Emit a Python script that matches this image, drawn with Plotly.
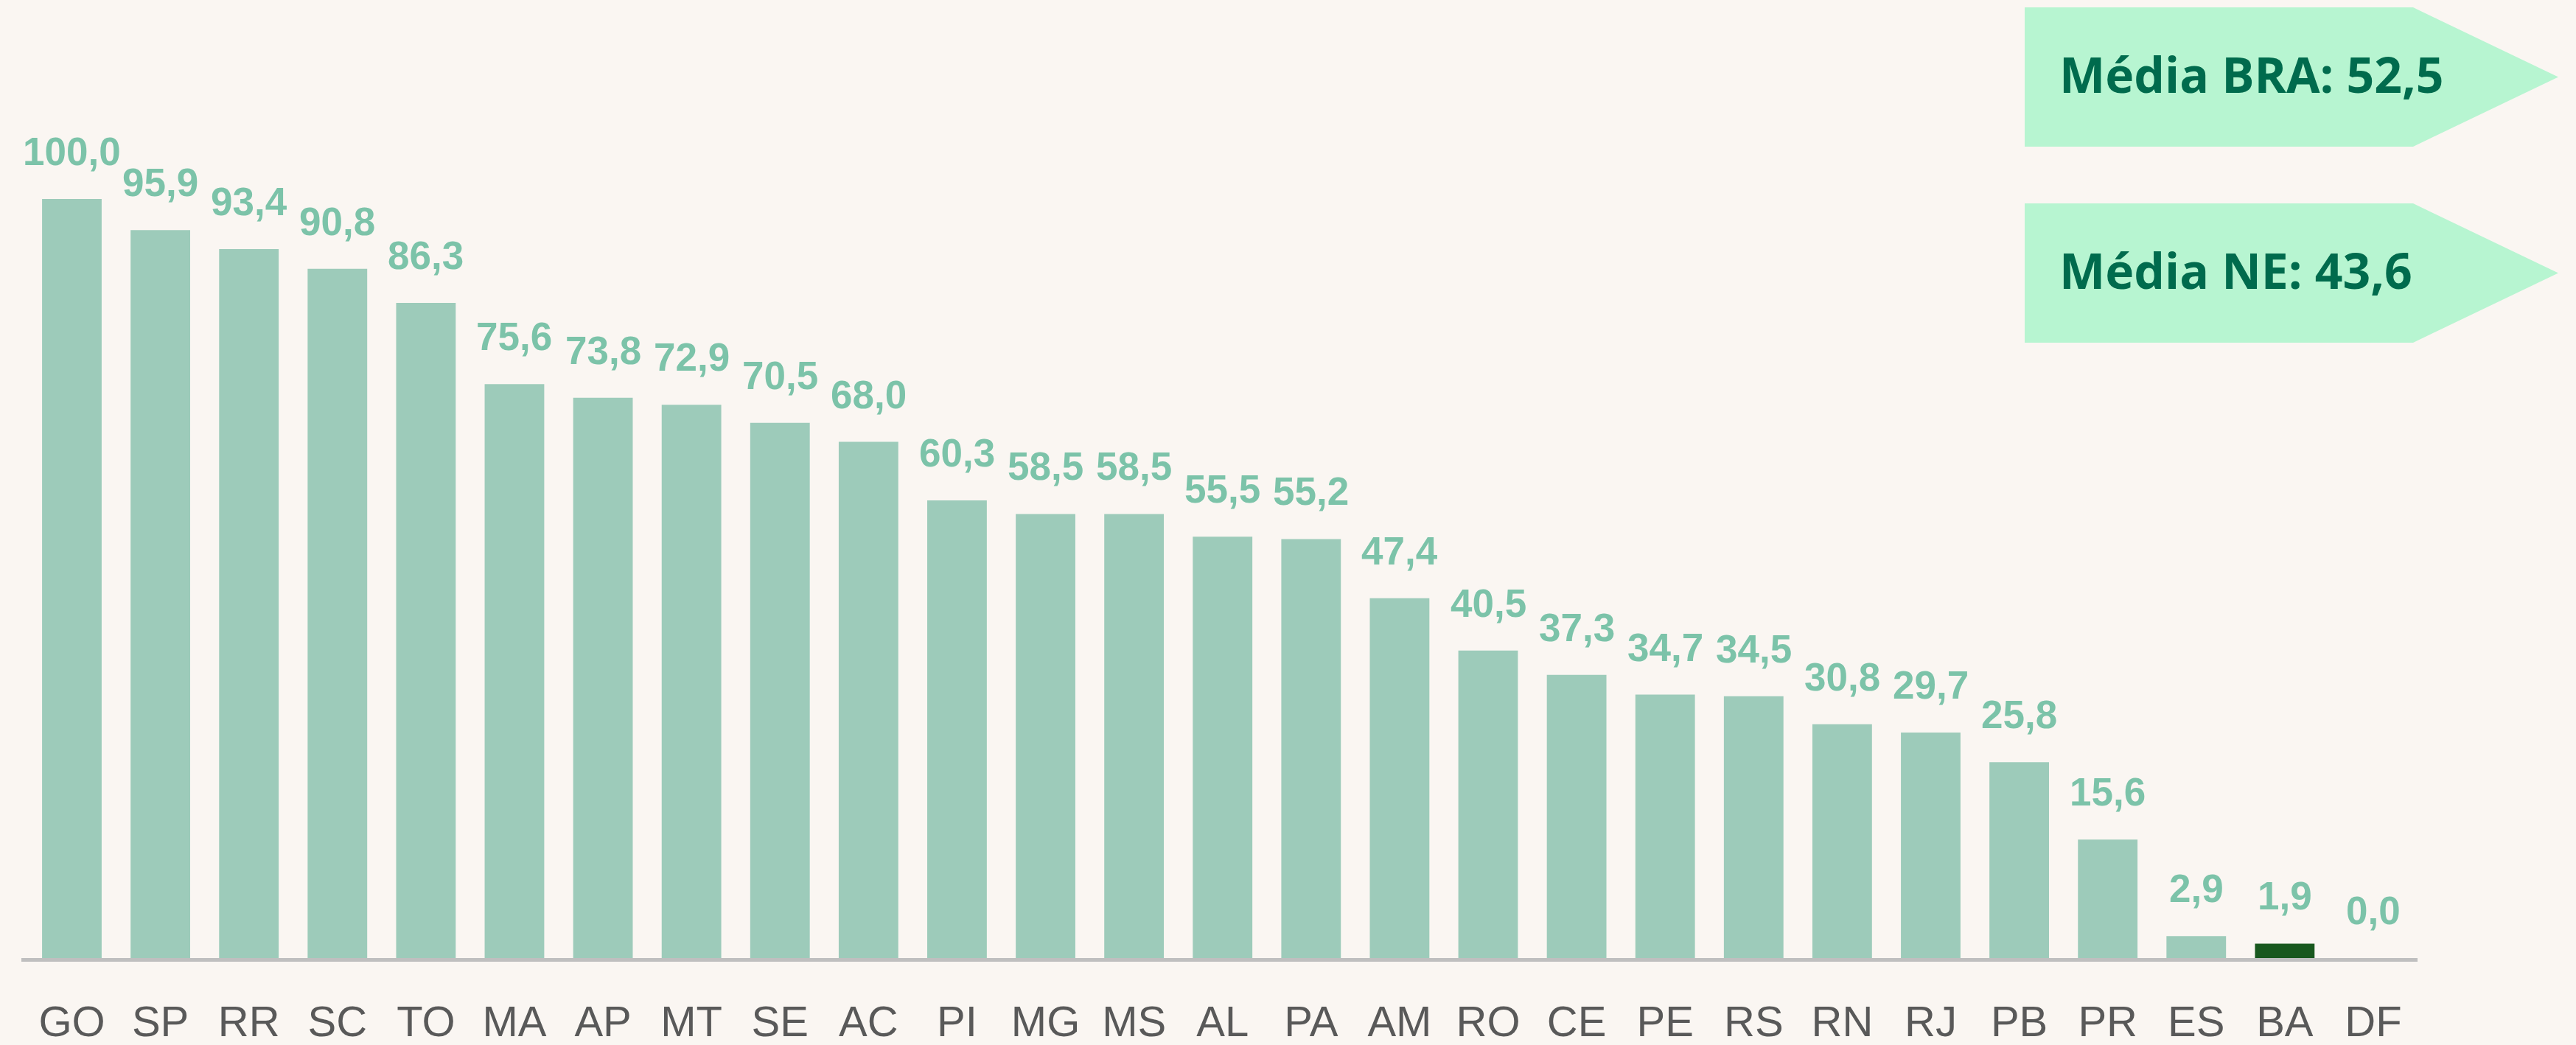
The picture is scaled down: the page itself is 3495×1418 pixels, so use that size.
import plotly.graph_objects as go

# ---- data ----
states = ["GO", "SP", "RR", "SC", "TO", "MA", "AP", "MT", "SE", "AC", "PI", "MG", "MS", "AL",
          "PA", "AM", "RO", "CE", "PE", "RS", "RN", "RJ", "PB", "PR", "ES", "BA", "DF"]
values = [100.0, 95.9, 93.4, 90.8, 86.3, 75.6, 73.8, 72.9, 70.5, 68.0, 60.3, 58.5, 58.5, 55.5,
          55.2, 47.4, 40.5, 37.3, 34.7, 34.5, 30.8, 29.7, 25.8, 15.6, 2.9, 1.9, 0.0]
highlight = "BA"
avg_labels = ["Média BRA: 52,5", "Média NE: 43,6"]

# ---- style ----
W, H = 3495, 1418
BG = "#FAF6F2"
BAR = "#9DCBBA"
BAR_HI = "#18581E"
LBL = "#7CC3A9"
TICK = "#595959"
BOX = "#B7F5D1"
BOX_TXT = "#006B4D"

ML, MT, MB = 29, 100, 118
PW = 3251
MR = W - ML - PW
PH = H - MT - MB
PX_PER_UNIT = 10.30


def px2paper(x, y):
    return (x - ML) / PW, (H - MB - y) / PH


colors = [BAR_HI if s == highlight else BAR for s in states]
fmt = [f"{v:.1f}".replace(".", ",") for v in values]

fig = go.Figure(go.Bar(x=states, y=values, marker=dict(color=colors, line=dict(width=0)),
                       hoverinfo="skip"))

for s, v, t in zip(states, values, fmt):
    fig.add_annotation(x=s, y=v, text=f"<b>{t}</b>", showarrow=False, yanchor="bottom",
                       yshift=33, font=dict(family="Liberation Sans", size=53, color=LBL))

# arrow-shaped boxes with averages
boxes = [(10, 199), (276, 465)]
for (top, bot), label in zip(boxes, avg_labels):
    xl, xr, xt = 2747, 3274, 3471
    ym = (top + bot) / 2
    pts = [(xl, top), (xr, top), (xt, ym), (xr, bot), (xl, bot)]
    pp = [px2paper(a, b) for a, b in pts]
    path = "M " + " L ".join(f"{a:.5f},{b:.5f}" for a, b in pp) + " Z"
    fig.add_shape(type="path", path=path, xref="paper", yref="paper",
                  fillcolor=BOX, line=dict(width=0), layer="below")
    tx, ty = px2paper(2792, ym - 4.6)
    fig.add_annotation(x=tx, y=ty, xref="paper", yref="paper", text=f"<b>{label}</b>",
                       showarrow=False, xanchor="left", yanchor="middle",
                       font=dict(family="Open Sans", size=66, color=BOX_TXT))

fig.update_layout(
    width=W, height=H,
    margin=dict(l=ML, r=MR, t=MT, b=MB, pad=0, autoexpand=False),
    paper_bgcolor=BG, plot_bgcolor=BG,
    bargap=0.327,
    showlegend=False,
    xaxis=dict(showgrid=False, showline=True, linecolor="#BFBFBF", linewidth=5,
               ticks="outside", ticklen=31, tickcolor="rgba(0,0,0,0)", automargin=False,
               tickfont=dict(family="Liberation Sans", size=58, color=TICK), fixedrange=True),
    yaxis=dict(visible=False, range=[0, PH / PX_PER_UNIT], showgrid=False, zeroline=False,
               automargin=False, fixedrange=True),
)

fig.write_html("out.html", config={"displayModeBar": False},
               post_script="document.body.style.margin='0';document.body.style.overflow='hidden';")
